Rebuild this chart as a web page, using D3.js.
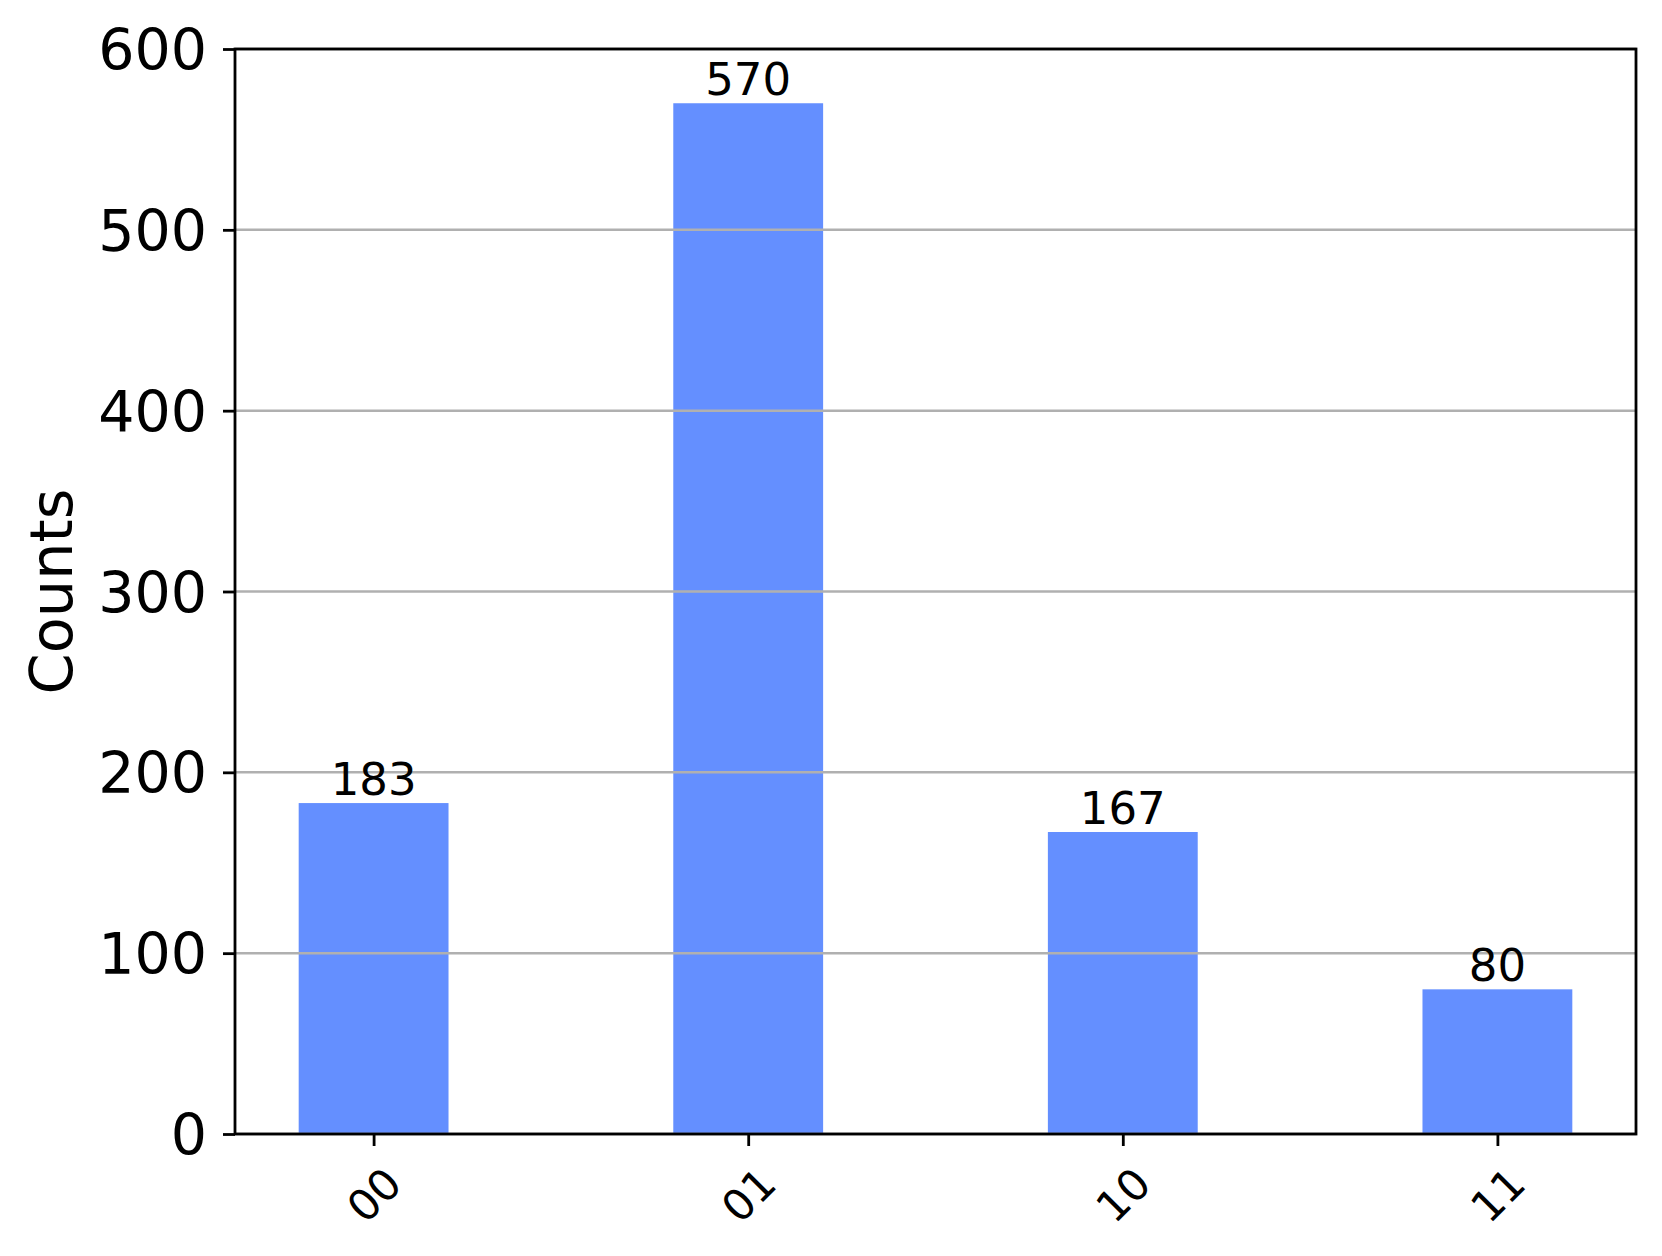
<!DOCTYPE html>
<html>
<head>
<meta charset="utf-8">
<script src="https://cdn.jsdelivr.net/npm/d3@7"></script>
<style>
  html, body { margin: 0; padding: 0; background: #fff; }
  svg { display: block; }
</style>
</head>
<body>
<svg id="chart"></svg>
<script>
const states = ["00", "01", "10", "11"];
const counts = [183, 570, 167, 80];
const yTicks = [0, 100, 200, 300, 400, 500, 600];

const width = 1662;
const height = 1256;
const margin = ({top: 49, right: 26, bottom: 122, left: 235});
const barWidth = 0.4;
const font = "DejaVu Sans, sans-serif";

const svg = d3.select("#chart")
    .attr("width", width)
    .attr("height", height);

svg.append("rect")
    .attr("width", width)
    .attr("height", height)
    .attr("fill", "#fff");

// matplotlib style x limits: bar extent plus 5% margin each side
const xPad = (states.length - 1 + barWidth) * 0.05;
const x = d3.scaleLinear()
    .domain([-barWidth / 2 - xPad, states.length - 1 + barWidth / 2 + xPad])
    .range([margin.left, width - margin.right]);

const y = d3.scaleLinear()
    .domain([0, 600])
    .range([height - margin.bottom, margin.top]);

// bars
svg.append("g")
    .selectAll("rect")
    .data(counts)
    .join("rect")
    .attr("x", (d, i) => x(i - barWidth / 2))
    .attr("y", d => y(d))
    .attr("width", (d, i) => x(i + barWidth / 2) - x(i - barWidth / 2))
    .attr("height", d => y(0) - y(d))
    .attr("fill", "#648fff");

// grid lines sit over the bars
svg.append("g")
    .selectAll("line")
    .data(yTicks)
    .join("line")
    .attr("x1", margin.left)
    .attr("x2", width - margin.right)
    .attr("y1", d => y(d))
    .attr("y2", d => y(d))
    .attr("stroke", "#b0b0b0")
    .attr("stroke-width", 2.5);

// value labels
svg.append("g")
    .selectAll("text")
    .data(counts)
    .join("text")
    .attr("x", (d, i) => x(i))
    .attr("y", d => y(d) - 8)
    .attr("text-anchor", "middle")
    .attr("font-family", font)
    .attr("font-size", 45)
    .attr("fill", "#000")
    .text(d => d);

const yAxis = g => g
    .attr("transform", `translate(${margin.left},0)`)
    .call(d3.axisLeft(y).tickValues(yTicks).tickSize(12).tickPadding(16))
    .call(g => g.select(".domain").remove())
    .call(g => g.selectAll(".tick line").attr("stroke", "#000").attr("stroke-width", 2.8))
    .call(g => g.selectAll(".tick text")
        .attr("font-family", font)
        .attr("font-size", 57)
        .attr("fill", "#000")
        .attr("dy", "0.36em"));

const xAxis = g => g
    .attr("transform", `translate(0,${height - margin.bottom})`)
    .call(d3.axisBottom(x).tickValues(d3.range(states.length)).tickFormat(i => states[i]).tickSize(12))
    .call(g => g.select(".domain").remove())
    .call(g => g.selectAll(".tick line").attr("stroke", "#000").attr("stroke-width", 2.8))
    .call(g => g.selectAll(".tick text")
        .attr("font-family", font)
        .attr("font-size", 43)
        .attr("fill", "#000")
        .attr("y", 0)
        .attr("dy", "0.35em")
        .attr("text-anchor", "middle")
        .attr("transform", "translate(0,61) rotate(-45)"));

svg.append("g").call(yAxis);
svg.append("g").call(xAxis);

// frame
svg.append("rect")
    .attr("x", margin.left)
    .attr("y", margin.top)
    .attr("width", width - margin.left - margin.right)
    .attr("height", height - margin.top - margin.bottom)
    .attr("fill", "none")
    .attr("stroke", "#000")
    .attr("stroke-width", 2.8);

svg.append("text")
    .attr("transform", `translate(72,${(margin.top + height - margin.bottom) / 2}) rotate(-90)`)
    .attr("text-anchor", "middle")
    .attr("font-family", font)
    .attr("font-size", 59)
    .attr("fill", "#000")
    .text("Counts");
</script>
</body>
</html>
